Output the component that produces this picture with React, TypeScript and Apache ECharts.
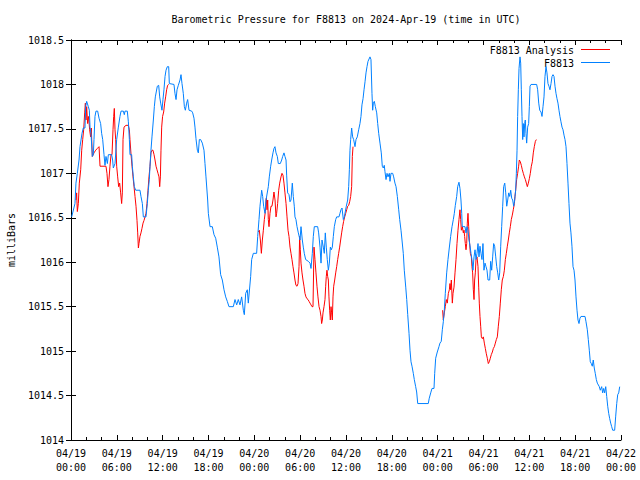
import React, { useEffect, useRef } from "react";
import * as echarts from "echarts";

const TITLE = "Barometric Pressure for F8813 on 2024-Apr-19 (time in UTC)";
const Y_NAME = "milliBars";
const SERIES_NAMES = ["F8813 Analysis", "F8813"];
const START_MONTH = "04";
const START_DAY = 19;
const Y_TICKS = [1014, 1014.5, 1015, 1015.5, 1016, 1016.5, 1017, 1017.5, 1018, 1018.5];

// hours since 04/19 00:00 UTC
const blueHours = [
  0.09, 0.52, 0.65, 0.83, 1.05, 1.18, 1.44, 1.61, 1.83, 1.92, 2.05, 2.27, 2.4, 2.49, 2.62, 2.79, 2.92, 3.01, 3.14, 3.27,
  3.49, 3.67, 3.88, 4.01, 4.15, 4.32, 4.45, 4.58, 4.76, 4.89, 5.32, 5.45, 5.54, 5.76, 5.98, 6.2, 6.41, 6.55, 6.85, 6.98,
  7.07, 7.37, 7.51, 7.64, 7.72, 7.94, 8.03, 8.16, 8.29, 8.47, 9.03, 9.16, 9.34, 9.47, 9.82, 9.99, 10.12, 10.25, 10.34, 10.47,
  10.6, 10.78, 10.91, 11.04, 11.3, 11.48, 11.61, 11.74, 11.91, 12.04, 12.17, 12.31, 12.44, 12.61, 12.79, 12.87, 13.48, 13.61, 13.75, 13.88,
  14.05, 14.27, 14.4, 14.53, 14.7, 14.84, 14.97, 15.14, 15.27, 15.45, 15.8, 15.93, 16.1, 16.23, 16.36, 16.54, 16.67, 16.8, 16.97, 17.19,
  17.41, 17.54, 17.67, 17.89, 17.98, 18.2, 18.5, 18.72, 18.94, 19.15, 19.37, 19.59, 19.81, 20.03, 20.25, 20.46, 20.68, 21.25, 21.47, 21.69,
  21.9, 22.12, 22.34, 22.56, 22.69, 22.87, 23.08, 23.21, 23.52, 23.65, 23.87, 24.3, 24.44, 24.61, 24.74, 24.96, 25.09, 25.22, 25.4, 25.53,
  25.83, 25.96, 26.14, 26.27, 26.44, 26.57, 26.7, 26.84, 27.01, 27.14, 27.4, 27.58, 27.71, 27.88, 28.01, 28.15, 28.23, 28.36, 28.54, 28.67,
  28.8, 28.97, 29.1, 29.23, 29.32, 29.45, 29.59, 29.76, 29.98, 30.11, 30.28, 30.41, 30.54, 30.72, 31.07, 31.29, 31.42, 31.59, 31.72, 31.85,
  32.29, 32.42, 32.6, 32.73, 32.86, 33.03, 33.16, 33.29, 33.42, 33.55, 33.69, 33.82, 33.95, 34.08, 34.21, 34.34, 34.47, 34.65, 34.78, 35.08,
  35.21, 35.34, 35.48, 35.65, 35.78, 36.04, 36.22, 36.35, 36.44, 36.52, 36.61, 36.74, 36.87, 37.0, 37.18, 37.31, 37.48, 37.66, 37.83, 37.96,
  38.09, 38.23, 38.36, 38.49, 38.62, 38.75, 38.88, 39.14, 39.27, 39.4, 39.49, 39.58, 39.71, 39.84, 40.02, 40.15, 40.28, 40.45, 40.62, 40.75,
  40.88, 41.01, 41.1, 41.24, 41.37, 41.5, 41.67, 41.76, 41.89, 42.11, 42.24, 42.41, 42.55, 42.72, 42.9, 43.03, 43.2, 43.33, 43.5, 43.63,
  43.82, 43.95, 44.08, 44.25, 44.38, 44.51, 44.64, 44.81, 44.94, 45.12, 45.25, 45.39, 46.77, 46.9, 47.09, 47.26, 47.52, 47.61, 47.74, 47.95,
  48.17, 48.3, 48.47, 48.61, 48.74, 48.87, 49.0, 49.18, 49.35, 49.52, 49.7, 49.88, 50.05, 50.18, 50.31, 50.49, 50.62, 50.79, 50.92, 51.05,
  51.15, 51.22, 51.58, 51.71, 51.84, 51.97, 52.1, 52.23, 52.36, 52.49, 52.62, 52.76, 52.89, 53.02, 53.15, 53.28, 53.41, 53.54, 53.67, 53.8,
  53.93, 54.06, 54.2, 54.33, 54.46, 54.59, 54.81, 54.94, 55.07, 55.2, 55.33, 55.46, 55.6, 55.73, 55.86, 55.99, 56.12, 56.25, 56.38, 56.51,
  56.64, 56.78, 56.91, 57.04, 57.17, 57.3, 57.43, 57.56, 57.69, 57.82, 57.95, 58.08, 58.21, 58.3, 58.39, 58.47, 58.56, 58.65, 58.78, 58.87,
  58.95, 59.04, 59.13, 59.21, 59.3, 59.39, 59.47, 59.56, 59.65, 59.78, 59.91, 60.0, 60.09, 60.22, 60.96, 61.09, 61.23, 61.36, 61.53, 61.66,
  61.79, 61.92, 62.05, 62.18, 62.31, 62.44, 62.57, 62.7, 62.84, 62.97, 63.1, 63.23, 63.36, 63.49, 63.62, 63.75, 63.88, 64.01, 64.14, 64.28,
  64.41, 64.54, 64.67, 64.8, 64.93, 65.06, 65.19, 65.32, 65.45, 65.58, 65.72, 65.85, 65.98, 66.11, 66.24, 66.37, 66.5, 66.63, 66.76, 67.29,
  67.42, 67.59, 67.72, 67.85, 67.98, 68.11, 68.24, 68.37, 68.5, 68.63, 68.77, 68.9, 69.16, 69.29, 69.47, 69.6, 69.73, 69.86, 70.0, 70.13,
  70.26, 70.39, 70.52, 70.65, 70.78, 70.91, 71.17, 71.3, 71.44, 71.57, 71.7, 71.83,
];

const bluePressure = [
  1016.51, 1016.66, 1016.89, 1017.0, 1017.15, 1017.3, 1017.45, 1017.51, 1017.51, 1017.75, 1017.81, 1017.75, 1017.71, 1017.52, 1017.45, 1017.19, 1017.21, 1017.38, 1017.64, 1017.7,
  1017.7, 1017.62, 1017.56, 1017.45, 1017.38, 1017.21, 1017.09, 1017.19, 1017.11, 1017.21, 1017.21, 1017.15, 1017.06, 1017.11, 1017.38, 1017.52, 1017.64, 1017.7, 1017.7, 1017.66,
  1017.7, 1017.7, 1017.58, 1017.38, 1017.21, 1017.21, 1017.08, 1016.96, 1016.85, 1016.81, 1016.81, 1016.74, 1016.66, 1016.51, 1016.51, 1016.66, 1016.81, 1016.93, 1017.08, 1017.26,
  1017.41, 1017.6, 1017.75, 1017.86, 1017.98, 1017.99, 1017.86, 1017.79, 1017.71, 1017.83, 1017.94, 1018.09, 1018.16, 1018.2, 1018.2, 1018.01, 1018.0, 1017.9, 1017.83, 1017.94,
  1017.99, 1018.05, 1018.11, 1018.01, 1017.9, 1017.75, 1017.71, 1017.79, 1017.83, 1017.71, 1017.7, 1017.68, 1017.62, 1017.52, 1017.39, 1017.26, 1017.23, 1017.38, 1017.38, 1017.34,
  1017.26, 1017.11, 1016.96, 1016.7, 1016.55, 1016.4, 1016.4, 1016.31, 1016.27, 1016.17, 1016.06, 1015.86, 1015.8, 1015.69, 1015.61, 1015.56, 1015.5, 1015.5, 1015.58, 1015.52,
  1015.58, 1015.52, 1015.61, 1015.46, 1015.41, 1015.65, 1015.69, 1015.54, 1015.84, 1016.03, 1016.1, 1016.1, 1016.29, 1016.48, 1016.63, 1016.81, 1016.74, 1016.63, 1016.55, 1016.7,
  1016.85, 1016.96, 1017.08, 1017.15, 1017.23, 1017.28, 1017.3, 1017.23, 1017.19, 1017.11, 1017.11, 1017.15, 1017.19, 1017.23, 1017.19, 1017.15, 1016.98, 1016.78, 1016.76, 1016.68,
  1016.7, 1016.89, 1016.74, 1016.63, 1016.51, 1016.48, 1016.4, 1016.33, 1016.25, 1016.4, 1016.25, 1016.17, 1016.1, 1016.03, 1016.01, 1015.99, 1015.93, 1016.1, 1016.29, 1016.4,
  1016.4, 1016.33, 1016.17, 1015.99, 1016.25, 1016.17, 1016.1, 1016.33, 1016.17, 1016.03, 1015.91, 1015.99, 1016.17, 1016.14, 1016.17, 1016.29, 1016.4, 1016.48, 1016.51, 1016.51,
  1016.55, 1016.59, 1016.61, 1016.48, 1016.51, 1016.63, 1016.7, 1016.85, 1017.04, 1017.26, 1017.38, 1017.51, 1017.41, 1017.38, 1017.3, 1017.38, 1017.41, 1017.49, 1017.56, 1017.64,
  1017.77, 1017.84, 1017.94, 1018.03, 1018.13, 1018.2, 1018.26, 1018.31, 1018.28, 1017.9, 1017.71, 1017.79, 1017.81, 1017.75, 1017.68, 1017.56, 1017.45, 1017.34, 1017.23, 1017.08,
  1017.06, 1017.09, 1017.02, 1016.93, 1017.0, 1016.96, 1017.0, 1016.91, 1017.0, 1017.0, 1016.96, 1016.89, 1016.85, 1016.74, 1016.59, 1016.48, 1016.36, 1016.25, 1016.1, 1015.91,
  1015.72, 1015.58, 1015.41, 1015.2, 1015.01, 1014.88, 1014.83, 1014.75, 1014.68, 1014.6, 1014.54, 1014.41, 1014.41, 1014.47, 1014.53, 1014.58, 1014.58, 1014.75, 1014.92, 1014.99,
  1015.05, 1015.09, 1015.11, 1015.24, 1015.33, 1015.46, 1015.65, 1015.88, 1016.03, 1016.16, 1016.29, 1016.4, 1016.48, 1016.55, 1016.64, 1016.74, 1016.85, 1016.9, 1016.83, 1016.7,
  1016.55, 1016.4, 1016.4, 1016.33, 1016.4, 1016.36, 1016.25, 1016.19, 1016.1, 1016.03, 1015.91, 1016.06, 1016.14, 1016.03, 1016.1, 1016.21, 1016.06, 1016.18, 1016.1, 1016.03,
  1016.21, 1015.91, 1015.99, 1015.95, 1015.91, 1015.8, 1015.8, 1016.01, 1015.91, 1016.06, 1016.21, 1016.18, 1016.06, 1015.95, 1015.88, 1015.8, 1015.88, 1016.18, 1016.4, 1016.63,
  1016.85, 1016.89, 1016.78, 1016.63, 1016.7, 1016.78, 1016.74, 1016.81, 1016.72, 1016.7, 1016.63, 1016.7, 1016.81, 1017.0, 1017.26, 1017.64, 1017.94, 1018.18, 1018.31, 1018.24,
  1017.94, 1017.64, 1017.38, 1017.56, 1017.41, 1017.56, 1017.6, 1017.45, 1017.34, 1017.52, 1017.56, 1017.75, 1017.98, 1018.0, 1018.0, 1017.94, 1017.79, 1017.71, 1017.69, 1017.64,
  1017.75, 1017.86, 1018.09, 1018.2, 1018.13, 1018.01, 1017.98, 1017.94, 1018.01, 1018.09, 1018.11, 1018.09, 1017.98, 1017.9, 1017.84, 1017.79, 1017.71, 1017.64, 1017.58, 1017.52,
  1017.49, 1017.43, 1017.38, 1017.3, 1017.11, 1016.89, 1016.66, 1016.44, 1016.33, 1016.18, 1015.95, 1015.91, 1015.8, 1015.61, 1015.46, 1015.35, 1015.31, 1015.37, 1015.39, 1015.39,
  1015.33, 1015.24, 1015.13, 1015.01, 1014.88, 1014.86, 1014.83, 1014.9, 1014.81, 1014.75, 1014.68, 1014.64, 1014.6, 1014.56, 1014.6, 1014.53, 1014.58, 1014.53, 1014.6, 1014.49,
  1014.38, 1014.3, 1014.24, 1014.19, 1014.15, 1014.11, 1014.11, 1014.26, 1014.41, 1014.51, 1014.53, 1014.6,
];

// analysis series; null marks a gap in the record
const redHours = [
  0.65, 0.74, 0.83, 0.96, 1.09, 1.27, 1.4, 1.53, 1.66, 1.79, 1.88, 1.96, 2.05, 2.18, 2.31, 2.44, 2.57, 2.66, 2.79, 3.01,
  3.23, 3.45, 3.67, 3.8, 4.58, 4.71, 4.84, 4.97, 5.1, 5.24, 5.37, 5.5, 5.59, 5.67, 5.76, 5.85, 5.98, 6.11, 6.24, 6.37,
  6.5, 6.63, 6.72, 6.81, 6.94, 7.2, 7.51, 7.64, 7.72, 7.86, 7.99, 8.12, 8.25, 8.38, 8.51, 8.64, 8.73, 8.82, 8.9, 9.03,
  9.16, 9.29, 9.43, 9.56, 9.69, 9.82, 9.95, 10.08, 10.21, 10.34, 10.47, 10.6, 10.73, 10.87, 11.0, 11.13, 11.26, 11.39, 11.52, 11.61,
  11.7, 11.78, 11.87, 11.99, 12.13, 12.26, 12.39, 12.52, 12.65, 12.79, 18.0,
  24.52, 24.65, 24.79, 24.92, 25.05, 25.18, 25.31, 25.44, 25.57, 25.66, 25.75, 25.83, 25.92, 26.05, 26.18, 26.31, 26.44, 26.57, 26.71, 26.84,
  26.92, 27.05, 27.19, 27.32, 27.49, 27.62, 27.75, 27.88, 28.01, 28.15, 28.28, 28.41, 28.54, 28.67, 28.8, 28.93, 29.06, 29.19, 29.32, 29.45,
  29.59, 29.72, 29.85, 29.93, 30.02, 30.11, 30.24, 30.37, 30.5, 30.63, 30.76, 30.89, 31.03, 31.16, 31.29, 31.42, 31.55, 31.68, 31.81, 31.94,
  32.07, 32.2, 32.33, 32.47, 32.6, 32.73, 32.81, 32.9, 32.99, 33.12, 33.25, 33.34, 33.42, 33.51, 33.6, 33.69, 33.77, 33.86, 33.95, 34.04,
  34.12, 34.21, 34.3, 34.39, 34.52, 34.65, 34.78, 34.91, 35.04, 35.17, 35.3, 35.43, 35.56, 35.69, 35.83, 35.96, 36.09, 36.22, 36.35, 36.48,
  36.61, 36.74, 36.83, 36.92, 42.0,
  48.65, 48.74, 48.87, 49.0, 49.13, 49.26, 49.4, 49.53, 49.61, 49.7, 49.79, 49.92, 50.01, 50.14, 50.27, 50.4, 50.53, 50.66, 50.79, 50.92,
  51.01, 51.1, 51.23, 51.36, 51.45, 51.53, 51.62, 51.71, 51.8, 51.88, 51.97, 52.06, 52.15, 52.28, 52.41, 52.49, 52.58, 52.67, 52.76, 52.84,
  52.93, 53.02, 53.15, 53.28, 53.37, 53.45, 53.54, 53.63, 53.72, 53.85, 53.98, 54.11, 54.24, 54.37, 54.5, 54.63, 54.76, 54.89, 55.02, 55.16,
  55.29, 55.42, 55.55, 55.68, 55.81, 55.94, 56.07, 56.2, 56.33, 56.46, 56.6, 56.73, 56.86, 56.99, 57.12, 57.25, 57.38, 57.51, 57.64, 57.77,
  57.9, 58.04, 58.12, 58.21, 58.34, 58.47, 58.6, 58.69, 58.82, 58.95, 59.08, 59.21, 59.35, 59.48, 59.61, 59.74, 59.87, 60.0, 60.13, 60.26,
  60.39, 60.52, 60.65, 60.79, 60.92,
];

const redPressure = [
  1016.7, 1016.78, 1016.57, 1016.66, 1016.89, 1017.04, 1017.26, 1017.38, 1017.49, 1017.68, 1017.79, 1017.6, 1017.75, 1017.56, 1017.64, 1017.49, 1017.41, 1017.51, 1017.19, 1017.23,
  1017.26, 1017.28, 1017.3, 1017.08, 1017.08, 1017.0, 1016.85, 1016.93, 1017.08, 1017.21, 1017.21, 1017.49, 1017.64, 1017.73, 1017.49, 1017.38, 1017.08, 1016.96, 1016.85, 1016.89,
  1016.78, 1016.66, 1016.78, 1017.38, 1017.52, 1017.54, 1017.54, 1017.49, 1017.38, 1017.21, 1017.08, 1016.96, 1016.85, 1016.74, 1016.63, 1016.47, 1016.33, 1016.16, 1016.21, 1016.29,
  1016.33, 1016.38, 1016.44, 1016.47, 1016.51, 1016.55, 1016.66, 1016.81, 1016.96, 1017.08, 1017.23, 1017.26, 1017.26, 1017.21, 1017.15, 1017.08, 1017.04, 1017.0, 1016.96, 1016.85,
  1016.96, 1017.26, 1017.52, 1017.64, 1017.69, 1017.79, 1017.86, 1017.94, 1017.99, 1018.0, null,
  1016.34, 1016.36, 1016.25, 1016.1, 1016.25, 1016.36, 1016.48, 1016.57, 1016.72, 1016.59, 1016.7, 1016.48, 1016.4, 1016.55, 1016.63, 1016.63, 1016.7, 1016.79, 1016.7, 1016.51,
  1016.55, 1016.66, 1016.81, 1016.89, 1016.96, 1017.0, 1016.98, 1016.89, 1016.78, 1016.66, 1016.51, 1016.36, 1016.29, 1016.17, 1016.1, 1016.03, 1015.95, 1015.88, 1015.8, 1015.74,
  1015.73, 1015.76, 1015.95, 1016.29, 1016.14, 1015.99, 1015.88, 1015.8, 1015.73, 1015.65, 1015.61, 1015.59, 1015.58, 1015.56, 1015.54, 1015.52, 1015.5, 1015.5, 1016.17, 1016.03,
  1015.88, 1015.73, 1015.61, 1015.5, 1015.46, 1015.39, 1015.31, 1015.35, 1015.43, 1015.5, 1015.58, 1015.73, 1015.84, 1015.91, 1015.84, 1015.8, 1015.61, 1015.46, 1015.35, 1015.5,
  1015.43, 1015.35, 1015.61, 1015.73, 1015.8, 1015.88, 1015.95, 1016.03, 1016.1, 1016.17, 1016.25, 1016.33, 1016.4, 1016.46, 1016.51, 1016.55, 1016.59, 1016.63, 1016.64, 1016.68,
  1016.74, 1016.85, 1017.19, 1017.3, null,
  1015.46, 1015.35, 1015.43, 1015.5, 1015.58, 1015.54, 1015.65, 1015.69, 1015.76, 1015.69, 1015.8, 1015.54, 1015.65, 1015.72, 1015.88, 1016.03, 1016.21, 1016.36, 1016.48, 1016.59,
  1016.48, 1016.36, 1016.4, 1016.33, 1016.36, 1016.29, 1016.21, 1016.14, 1016.21, 1016.44, 1016.55, 1016.4, 1016.25, 1016.1, 1016.06, 1015.95, 1015.88, 1015.69, 1015.58, 1015.8,
  1015.88, 1016.03, 1016.06, 1015.95, 1015.72, 1015.54, 1015.39, 1015.28, 1015.16, 1015.14, 1015.16, 1015.09, 1015.03, 1014.97, 1014.92, 1014.86, 1014.88, 1014.92, 1014.96, 1014.99,
  1015.03, 1015.05, 1015.09, 1015.13, 1015.16, 1015.28, 1015.39, 1015.54, 1015.69, 1015.8, 1015.84, 1015.91, 1016.03, 1016.1, 1016.18, 1016.25, 1016.33, 1016.4, 1016.48, 1016.53,
  1016.59, 1016.66, 1016.74, 1016.81, 1016.93, 1017.0, 1017.08, 1017.15, 1017.13, 1017.09, 1017.04, 1017.0, 1016.96, 1016.93, 1016.89, 1016.85, 1016.89, 1016.94, 1017.0, 1017.08,
  1017.13, 1017.23, 1017.3, 1017.36, 1017.38,
];

const RED = "#ff0000";
const BLUE = "#0080ff";
const FONT = "'DejaVu Sans Mono', 'Liberation Mono', monospace";

const pairs = (hs: number[], vs: (number | null)[]) =>
  hs.map((h, i) => [h, vs[i] === null ? "-" : vs[i]]);

const timeLabel = (h: number) => {
  const day = START_DAY + Math.floor(h / 24);
  const hr = Math.round(h % 24);
  return `${START_MONTH}/${String(day).padStart(2, "0")}\n${String(hr).padStart(2, "0")}:00`;
};

export default function App() {
  const ref = useRef<HTMLDivElement>(null);
  useEffect(() => {
    if (!ref.current) return;
    const chart = echarts.init(ref.current, undefined, { renderer: "svg" });
    const xBase = {
      type: "value",
      min: 0,
      max: 72,
      interval: 6,
      splitLine: { show: false },
      axisLine: { show: true, lineStyle: { color: "#000", width: 1 } },
      axisTick: { show: true, inside: true, length: 5, lineStyle: { color: "#000" } },
      minorTick: { show: true, splitNumber: 3, length: 3, lineStyle: { color: "#000" } },
    };
    const yBase = {
      type: "value",
      min: Y_TICKS[0],
      max: Y_TICKS[Y_TICKS.length - 1],
      interval: 0.5,
      splitLine: { show: false },
      axisLine: { show: true, lineStyle: { color: "#000", width: 1 } },
      axisTick: { show: true, inside: true, length: 5, lineStyle: { color: "#000" } },
    };
    chart.setOption({
      animation: false,
      backgroundColor: "#fff",
      grid: {
        left: 71,
        right: 19,
        top: 40,
        bottom: 40,
        show: false,
        containLabel: false,
        outerBoundsMode: "none",
      },
      xAxis: [
        {
          ...xBase,
          position: "bottom",
          axisLabel: {
            show: true,
            color: "#000",
            fontFamily: FONT,
            fontSize: 10,
            lineHeight: 14,
            margin: 6,
            formatter: (v: number) => timeLabel(v),
          },
        },
        { ...xBase, position: "top", axisLabel: { show: false } },
      ],
      yAxis: [
        {
          ...yBase,
          position: "left",
          name: Y_NAME,
          nameLocation: "middle",
          nameRotate: 90,
          nameGap: 55,
          nameTextStyle: { color: "#000", fontFamily: FONT, fontSize: 10 },
          axisLabel: {
            show: true,
            color: "#000",
            fontFamily: FONT,
            fontSize: 10,
            margin: 7,
            formatter: (v: number) => String(v),
          },
        },
        { ...yBase, position: "right", axisLabel: { show: false } },
      ],
      series: [
        {
          name: SERIES_NAMES[0],
          type: "line",
          xAxisIndex: 0,
          yAxisIndex: 0,
          data: pairs(redHours, redPressure),
          showSymbol: false,
          symbol: "none",
          connectNulls: false,
          lineStyle: { color: RED, width: 1 },
          itemStyle: { color: RED },
        },
        {
          name: SERIES_NAMES[1],
          type: "line",
          xAxisIndex: 0,
          yAxisIndex: 0,
          data: pairs(blueHours, bluePressure),
          showSymbol: false,
          symbol: "none",
          lineStyle: { color: BLUE, width: 1 },
          itemStyle: { color: BLUE },
        },
      ],
      graphic: [
        {
          type: "text",
          x: 346,
          y: 19,
          style: {
            text: TITLE,
            fill: "#000",
            font: `10px ${FONT}`,
            textAlign: "center",
            textVerticalAlign: "middle",
          },
        },
        {
          type: "text",
          x: 574,
          y: 50,
          style: {
            text: SERIES_NAMES[0],
            fill: "#000",
            font: `10px ${FONT}`,
            textAlign: "right",
            textVerticalAlign: "middle",
          },
        },
        {
          type: "line",
          shape: { x1: 581, y1: 49.5, x2: 610, y2: 49.5 },
          style: { stroke: RED, lineWidth: 1 },
        },
        {
          type: "text",
          x: 574,
          y: 63,
          style: {
            text: SERIES_NAMES[1],
            fill: "#000",
            font: `10px ${FONT}`,
            textAlign: "right",
            textVerticalAlign: "middle",
          },
        },
        {
          type: "line",
          shape: { x1: 581, y1: 62.5, x2: 610, y2: 62.5 },
          style: { stroke: BLUE, lineWidth: 1 },
        },
      ],
    });
    return () => chart.dispose();
  }, []);
  return <div ref={ref} style={{ width: 640, height: 480, position: "absolute", left: 0, top: 0 }} />;
}
